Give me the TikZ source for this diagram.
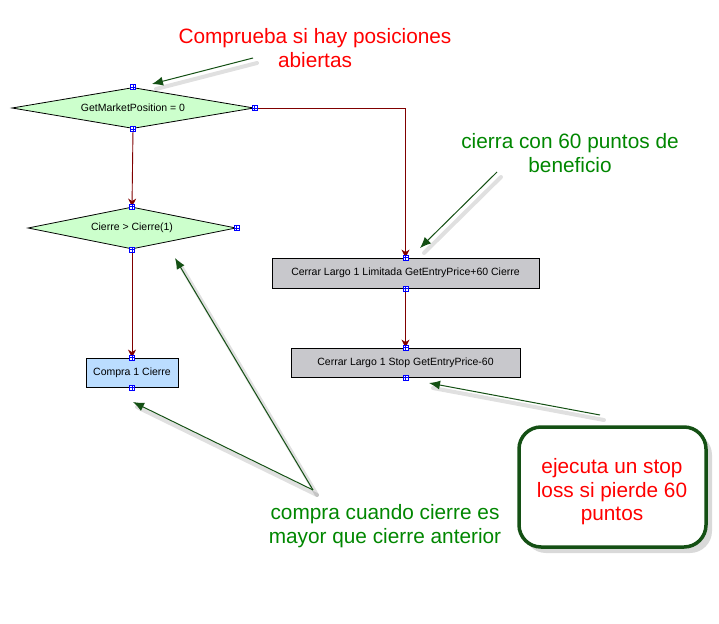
\documentclass[tikz,border=0pt]{standalone}
\usepackage{fontspec}
\setmainfont{Liberation Sans}
\usetikzlibrary{shapes.geometric,arrows.meta,calc}
\definecolor{flowred}{RGB}{128,0,0}
\definecolor{dgreen}{RGB}{20,80,20}
\definecolor{txtgreen}{RGB}{0,135,0}
\definecolor{diafill}{RGB}{204,255,204}
\definecolor{bluefill}{RGB}{187,221,255}
\definecolor{grayfill}{RGB}{200,200,204}
\definecolor{handleblue}{RGB}{0,0,255}
\tikzset{
  diabox/.style={diamond, draw=black, line width=0.8pt, fill=diafill, inner sep=0pt, aspect=5.9, font=\fontsize{10.5}{12}\selectfont},
  actbox/.style={rectangle, draw=black, line width=0.8pt, inner sep=0pt, font=\fontsize{10.5}{12}\selectfont},
  flow/.style={draw=flowred, line width=0.9pt, -{Stealth[length=8pt,width=8pt,inset=2.5pt]}},
  note/.style={draw=dgreen, line width=1pt, -{Latex[length=11pt,width=9pt]}},
  noteshadow/.style={draw=black, opacity=0.12, line width=4pt, line cap=round},
  redtxt/.style={text=red, font=\fontsize{20.8}{23.5}\selectfont, align=center},
  greentxt/.style={text=txtgreen, font=\fontsize{20.8}{23.5}\selectfont, align=center},
}
\newcommand{\handlemark}[1]{%
  \draw[handleblue, line width=0.6pt, fill=white] ($(#1)+(-2.5,-2.5)$) rectangle ($(#1)+(2.5,2.5)$);
  \draw[handleblue, line width=0.5pt] ($(#1)+(-2.5,0)$) -- ($(#1)+(2.5,0)$) ($(#1)+(0,-2.5)$) -- ($(#1)+(0,2.5)$);}
\begin{document}
\begin{tikzpicture}[x=1pt,y=-1pt]
\useasboundingbox[fill=white] (0,0) rectangle (719,623);

% flowchart nodes
\node[diabox, minimum width=242pt, minimum height=41pt] (d1) at (133,108) {GetMarketPosition = 0};
\node[diabox, minimum width=208pt, minimum height=42pt] (d2) at (132,228) {Cierre > Cierre(1)};
\node[actbox, fill=bluefill, minimum width=92pt, minimum height=29pt] (b1) at (132,372.5) {Compra 1 Cierre};
\node[actbox, fill=grayfill, minimum width=267pt, minimum height=30pt] (b2) at (405.5,273) {Cerrar Largo 1 Limitada GetEntryPrice+60 Cierre};
\node[actbox, fill=grayfill, minimum width=229pt, minimum height=29pt] (b3) at (405.5,362.5) {Cerrar Largo 1 Stop GetEntryPrice-60};

% connectors
\draw[flow] (d1.east) -| (b2.north);
\draw[flow] (d1.south) -- (d2.north);
\draw[flow] (d2.south) -- (b1.north);
\draw[flow] (b2.south) -- (b3.north);

% handles
\foreach \p in {d1.north,d1.east,d1.south,d2.north,d2.east,d2.south,b1.north,b1.south,b2.north,b2.south,b3.north,b3.south}{\handlemark{\p}}

% annotation texts
\node[redtxt] (t1) at (315,48) {Comprueba si hay posiciones\\abiertas};
\node[greentxt] (t2) at (570,153) {cierra con 60 puntos de\\beneficio};
\node[greentxt] (t3) at (385,526) {compra cuando cierre es\\mayor que cierre anterior};

% rounded note box
\fill[black, opacity=0.15, rounded corners=22pt] (524,433) rectangle (712,553);
\node[draw=dgreen, line width=3.5pt, rounded corners=22pt, fill=white, minimum width=187pt, minimum height=120pt] (nb) at (612.5,487) {};
\node[redtxt] (t4) at (612,492) {ejecuta un stop\\loss si pierde 60\\puntos};

% annotation arrow coordinates
\coordinate (a1s) at (253,58);
\coordinate (a1e) at (152,84);
\coordinate (a2s) at (497,172);
\coordinate (a2e) at (420,248);
\coordinate (a3s) at (313,490);
\coordinate (a3e) at (133,402);
\coordinate (a4e) at (175,258);
\coordinate (a5s) at (600,415);
\coordinate (a5e) at (429,383);

% arrow shadows
\foreach \s/\e in {a1s/a1e,a2s/a2e,a3s/a3e,a3s/a4e,a5s/a5e}{
  \draw[noteshadow] ($(\s)+(4,5)$) -- ($(\e)+(4,5)$);}

% annotation arrows
\draw[note] (a1s) -- (a1e);
\draw[note] (a2s) -- (a2e);
\draw[note] (a3s) -- (a3e);
\draw[note] (a3s) -- (a4e);
\draw[note] (a5s) -- (a5e);
\end{tikzpicture}
\end{document}
